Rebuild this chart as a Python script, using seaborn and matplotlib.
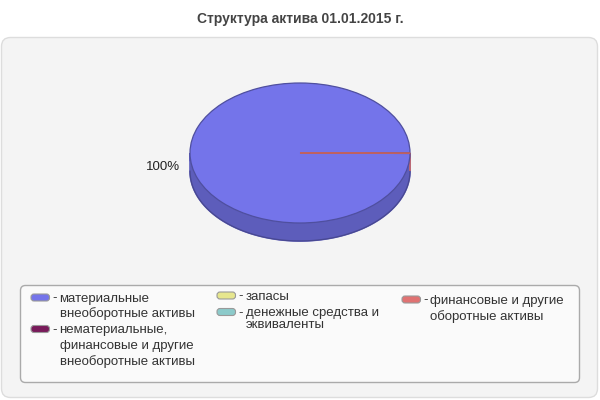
import matplotlib.pyplot as plt
from matplotlib.patches import FancyBboxPatch
import numpy as np
import seaborn as sns

# chart data
title = 'Структура актива 01.01.2015 г.'
categories = ['материальные\nвнеоборотные активы',
              'нематериальные,\nфинансовые и другие\nвнеоборотные активы',
              'запасы',
              'денежные средства и\nэквиваленты',
              'финансовые и другие\nоборотные активы']
shares = [99.9, 0.0, 0.0, 0.0, 0.1]
colors = ['#7474ea', '#781a5a', '#e6e68e', '#8ccaca', '#e07272']

sns.set_style('white')
plt.rcParams['font.family'] = ['Liberation Sans', 'DejaVu Sans']

fig = plt.figure(figsize=(6, 4), dpi=100)
fig.patch.set_facecolor('white')

# background layer in pixel coordinates
bg = fig.add_axes([0, 0, 1, 1])
bg.set_xlim(0, 600)
bg.set_ylim(400, 0)
bg.axis('off')

bg.add_patch(FancyBboxPatch((1.5, 37.5), 596, 360, boxstyle='round,pad=0,rounding_size=9',
                            facecolor='#f4f4f4', edgecolor='#dddddd', lw=1))
bg.text(300, 19, title, ha='center', va='center', fontsize=10, fontweight='bold', color='#444444')

# legend box
bg.add_patch(FancyBboxPatch((20.5, 285.5), 559, 97, boxstyle='round,pad=0,rounding_size=5',
                            facecolor='#fafafa', edgecolor='#aaaaaa', lw=1))
legend_pos = [(31, 297.5), (31, 329), (217, 295.5), (217, 312), (402, 299.5)]
line_gap = [15.5, 15.7, 12, 11.2, 16]
for (x, y), lab, col, gap in zip(legend_pos, categories, colors, line_gap):
    bg.add_patch(FancyBboxPatch((x, y - 3.5), 18.5, 7, boxstyle='round,pad=0,rounding_size=3',
                                facecolor=col, edgecolor='#999999', lw=0.8))
    bg.text(x + 21.5, y + 3.8, '-', ha='left', va='baseline', fontsize=9.5, color='#333333')
    for i, line in enumerate(lab.split('\n')):
        bg.text(x + 28.5, y + 4.3 + i * gap, line, ha='left', va='baseline',
                fontsize=9.5, color='#333333')

# pseudo 3d pie
ax = fig.add_axes([0.25, 0.35, 0.5, 0.5])
ax.patch.set_alpha(0)
vals = [v for v in shares if v > 0]
cols = [c for v, c in zip(shares, colors) if v > 0]
rgb = [np.array(sns.desaturate(c, 1.0)) for c in cols]
depth = 0.257

wedges, _ = ax.pie(vals, colors=cols, startangle=0, counterclock=True, center=(0, 0),
                   wedgeprops=dict(zorder=3))

# side walls for the front half of every wedge
for w, c in zip(wedges, rgb):
    t1, t2 = max(w.theta1, 180), min(w.theta2, 360)
    if t2 <= t1:
        continue
    t = np.deg2rad(np.linspace(t1, t2, 200))
    xs = np.concatenate([np.cos(t), np.cos(t[::-1])])
    ys = np.concatenate([np.sin(t), np.sin(t[::-1]) - depth])
    side_col = tuple(c * 0.8) if len(vals) and c is rgb[0] else tuple(c * 0.9)
    ax.fill(xs, ys, facecolor=side_col, edgecolor=side_col, lw=1.2, zorder=1)
    ax.plot(np.cos(t), np.sin(t) - depth, color=tuple(c * 0.62), lw=0.9, zorder=2)

for w, c in zip(wedges, rgb):
    w.set_edgecolor(tuple(c * 0.68) if c is rgb[0] else tuple(c * 0.85))
    w.set_linewidth(0.9)

# percent labels
total = sum(vals)
for w, v in zip(wedges, vals):
    pct = v / total * 100
    if pct < 1:
        continue
    mid = np.deg2rad((w.theta1 + w.theta2) / 2)
    x = np.cos(mid) * 1.09
    y = np.sin(mid) * 1.09 - depth * 0.78
    ax.text(x, y, f'{pct:.0f}%', ha='right' if x < 0 else 'left', va='center',
            fontsize=9.5, color='#222222')

ax.set_aspect('auto')
ax.set_xlim(-1.3636, 1.3636)
ax.set_ylim(-1.5286, 1.3286)
ax.axis('off')

plt.savefig('out.png', dpi=100)
